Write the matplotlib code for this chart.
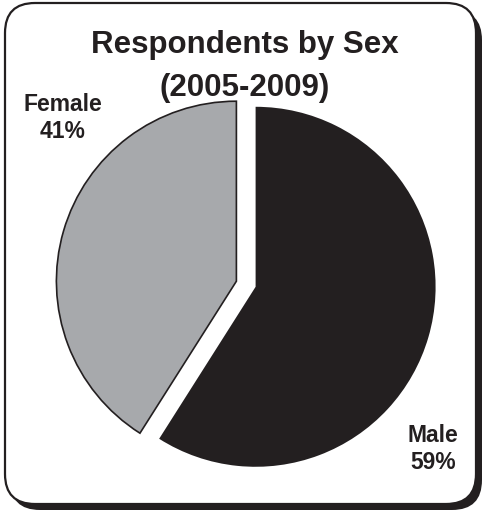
import matplotlib.pyplot as plt
from matplotlib.patches import FancyBboxPatch

labels = ['Male', 'Female']
shares = [59, 41]
colors = ['#231f20', '#a7a9ac']

plt.rcParams['font.family'] = ['Liberation Sans', 'DejaVu Sans']

fig = plt.figure(figsize=(4.84, 5.12), dpi=100)
ax = fig.add_axes([0, 0, 1, 1])

# frame with drop shadow
shadow = FancyBboxPatch((10, 2), 472, 500, boxstyle='round,pad=0,rounding_size=30',
                        fc='#231f20', ec='none', zorder=0)
frame = FancyBboxPatch((5, 8), 471, 501, boxstyle='round,pad=0,rounding_size=30',
                       fc='white', ec='#231f20', lw=1.6, zorder=1)
ax.add_patch(shadow)
ax.add_patch(frame)

# explode is in data units here (pixels)
wedges, _ = ax.pie(shares, colors=colors, startangle=90, counterclock=False,
                   explode=[10, 10], center=(246, 228), radius=180,
                   frame=True)
wedges[0].set_edgecolor('none')
wedges[1].set_edgecolor('#231f20')
wedges[1].set_linewidth(1.2)
for w in wedges:
    w.set_zorder(2)
ax.set_xlim(0, 484)
ax.set_ylim(0, 512)
ax.set_aspect('auto')
ax.axis('off')

ax.text(245, 467, 'Respondents by Sex', ha='center', va='center',
        fontsize=22.5, fontweight='bold', color='#231f20', zorder=3)
ax.text(245, 424, '(2005-2009)', ha='center', va='center',
        fontsize=22.5, fontweight='bold', color='#231f20', zorder=3)

ax.text(63, 394, 'Female\n%d%%' % shares[1], ha='center', va='center',
        fontsize=16.5, fontweight='bold', color='#231f20', linespacing=1.2, zorder=3)
ax.text(433, 63, 'Male\n%d%%' % shares[0], ha='center', va='center',
        fontsize=16.5, fontweight='bold', color='#231f20', linespacing=1.2, zorder=3)

fig.savefig('out.png', dpi=100)
